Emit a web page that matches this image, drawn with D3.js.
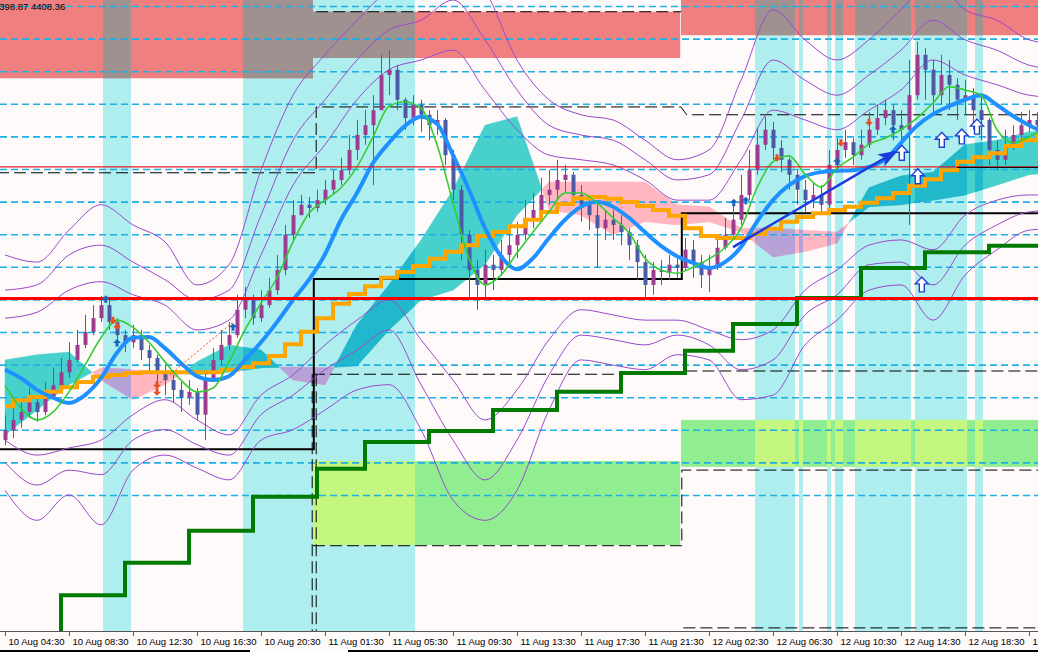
<!DOCTYPE html>
<html lang="en">
<head>
<meta charset="utf-8">
<style>
    body { margin: 0; background: #fffafa; }
    svg { display: block; }
    text { font-family: "Liberation Sans", Arial, sans-serif; }
</style>
</head>
<body>
<svg></svg>
<script src="https://cdn.jsdelivr.net/npm/d3@7"></script>
<script>
    /************************************************************************************
    * Data (one bar per 8 px slot, indicator samples every 2 / 4 bars)
    ************************************************************************************/
    const timeTicks = [0, 8, 16, 24, 32, 40, 48, 56, 64, 72, 80, 88, 96, 104, 112, 120, 128];
    const timeLabels = ["10 Aug 04:30", "10 Aug 08:30", "10 Aug 12:30", "10 Aug 16:30", "10 Aug 20:30",
        "11 Aug 01:30", "11 Aug 05:30", "11 Aug 09:30", "11 Aug 13:30", "11 Aug 17:30", "11 Aug 21:30",
        "12 Aug 02:30", "12 Aug 06:30", "12 Aug 10:30", "12 Aug 14:30", "12 Aug 18:30", "12 Aug 22:30"];

    const firstOpen = 4338.5;
    const closes = [4340.0, 4341.6, 4342.8, 4344.3, 4342.8, 4345.0, 4346.9, 4348.9, 4350.8, 4353.1,
        4355.1, 4357.2, 4359.2, 4356.6, 4354.6, 4353.5, 4354.6, 4352.3, 4351.1, 4348.9,
        4347.7, 4346.2, 4345.0, 4345.9, 4342.4, 4348.0, 4350.8, 4353.1, 4354.6, 4358.5,
        4360.0, 4357.2, 4359.2, 4361.5, 4364.6, 4370.0, 4373.0, 4374.6, 4374.1, 4375.3,
        4376.9, 4378.4, 4379.9, 4383.0, 4385.3, 4386.8, 4389.1, 4394.5, 4395.3, 4390.7,
        4387.9, 4389.9, 4388.4, 4386.8, 4387.6, 4382.2, 4376.9, 4370.0, 4364.6, 4362.3,
        4365.4, 4364.6, 4366.9, 4368.4, 4370.0, 4372.3, 4373.8, 4376.1, 4376.9, 4378.4,
        4379.2, 4376.1, 4374.6, 4373.0, 4371.0, 4372.3, 4371.5, 4370.4, 4368.4, 4365.8,
        4362.3, 4364.6, 4364.3, 4365.4, 4364.9, 4367.7, 4365.8, 4363.8, 4364.9, 4368.0,
        4370.0, 4372.3, 4376.1, 4379.9, 4383.8, 4386.1, 4383.3, 4381.5, 4379.2, 4376.9,
        4375.3, 4376.1, 4374.6, 4380.7, 4383.0, 4384.2, 4382.2, 4383.8, 4386.1, 4387.9,
        4389.1, 4386.8, 4386.1, 4391.4, 4397.6, 4395.3, 4391.4, 4394.5, 4393.0, 4390.7,
        4391.4, 4389.1, 4387.6, 4383.0, 4381.5, 4383.8, 4385.3, 4386.8, 4387.6, 4386.8];
    const highs = [4342.3, 4343.4, 4345.0, 4346.5, 4345.0, 4347.4, 4349.6, 4351.1, 4353.5, 4355.4,
        4357.7, 4359.2, 4360.6, 4360.0, 4357.2, 4355.4, 4356.2, 4355.4, 4353.1, 4351.6,
        4350.0, 4348.5, 4347.4, 4347.7, 4346.5, 4348.9, 4352.6, 4355.4, 4356.6, 4360.8,
        4362.0, 4360.8, 4361.5, 4363.4, 4366.9, 4371.5, 4375.3, 4376.1, 4375.8, 4376.9,
        4378.4, 4379.9, 4381.8, 4385.3, 4387.6, 4389.1, 4391.4, 4397.6, 4398.3, 4396.0,
        4391.0, 4391.4, 4390.7, 4389.1, 4389.1, 4387.9, 4383.0, 4377.6, 4370.7, 4366.1,
        4367.7, 4366.9, 4369.2, 4371.0, 4372.0, 4375.3, 4376.4, 4378.7, 4379.9, 4381.5,
        4380.7, 4379.6, 4377.6, 4376.1, 4374.6, 4373.8, 4373.8, 4373.0, 4371.0, 4369.2,
        4366.9, 4365.8, 4366.1, 4366.9, 4366.4, 4369.5, 4369.2, 4366.9, 4366.9, 4370.0,
        4372.6, 4374.6, 4379.2, 4383.0, 4386.4, 4388.1, 4387.3, 4384.5, 4381.8, 4379.9,
        4378.4, 4378.1, 4377.6, 4383.0, 4384.8, 4386.1, 4384.8, 4386.1, 4388.8, 4389.9,
        4390.7, 4389.9, 4389.1, 4396.8, 4399.6, 4398.6, 4396.8, 4397.6, 4396.8, 4394.0,
        4393.7, 4392.5, 4391.4, 4387.9, 4384.5, 4386.1, 4386.8, 4388.8, 4389.1, 4388.8];
    const lows = [4337.7, 4338.8, 4340.4, 4341.9, 4341.3, 4342.3, 4344.7, 4346.5, 4348.0, 4350.5,
        4352.6, 4354.6, 4356.6, 4355.4, 4353.1, 4352.0, 4352.6, 4350.8, 4348.9, 4345.9,
        4345.4, 4344.3, 4342.8, 4343.9, 4341.6, 4338.5, 4347.7, 4350.0, 4352.3, 4354.2,
        4357.2, 4356.2, 4356.6, 4358.8, 4360.8, 4363.8, 4369.2, 4373.0, 4372.6, 4373.5,
        4374.6, 4376.1, 4377.6, 4379.2, 4381.5, 4383.8, 4377.6, 4389.1, 4391.4, 4389.1,
        4386.1, 4386.8, 4385.8, 4384.5, 4385.3, 4380.7, 4375.3, 4366.1, 4360.0, 4358.5,
        4360.0, 4361.5, 4363.8, 4365.8, 4366.4, 4369.2, 4371.0, 4373.0, 4374.6, 4375.6,
        4376.6, 4374.6, 4372.0, 4370.7, 4364.9, 4369.2, 4369.2, 4368.4, 4366.1, 4363.1,
        4360.3, 4360.8, 4362.3, 4363.1, 4363.4, 4364.6, 4363.4, 4361.8, 4361.2, 4364.6,
        4367.7, 4369.2, 4371.5, 4375.3, 4379.2, 4383.0, 4381.5, 4379.6, 4376.9, 4374.6,
        4373.5, 4374.1, 4373.0, 4373.8, 4379.9, 4381.8, 4380.7, 4381.5, 4383.3, 4385.3,
        4386.8, 4384.5, 4383.0, 4371.5, 4390.7, 4390.7, 4388.4, 4389.9, 4389.1, 4387.6,
        4388.4, 4386.1, 4384.5, 4380.7, 4379.9, 4380.7, 4383.0, 4384.5, 4385.8, 4385.3];

    // moving averages, one sample every 2 bars
    const maSlow = [4349.3, 4348.0, 4346.2, 4345.0, 4344.2, 4345.4, 4348.0, 4351.9, 4354.2, 4354.3,
        4352.6, 4350.3, 4348.3, 4347.7, 4348.3, 4350.8, 4353.5, 4356.6, 4360.0, 4363.1,
        4367.0, 4372.3, 4376.4, 4381.0, 4384.1, 4386.7, 4388.1, 4387.0, 4382.2, 4376.9,
        4371.0, 4366.7, 4364.7, 4366.4, 4369.5, 4372.3, 4374.3, 4375.0, 4374.3, 4372.6,
        4370.4, 4368.3, 4366.7, 4365.7, 4364.9, 4365.8, 4368.1, 4372.0, 4375.3, 4377.6,
        4379.0, 4379.6, 4379.8, 4379.9, 4380.4, 4381.5, 4384.1, 4386.7, 4388.5, 4389.7,
        4390.7, 4391.4, 4389.9, 4388.2, 4386.8, 4385.6];
    const maFast = [4346.9, 4343.4, 4341.6, 4342.8, 4345.9, 4350.0, 4354.2, 4356.9, 4355.8, 4353.5,
        4350.5, 4347.7, 4345.9, 4346.5, 4350.5, 4355.4, 4359.5, 4363.4, 4368.9, 4373.3,
        4375.3, 4377.2, 4380.4, 4385.0, 4389.7, 4390.4, 4389.4, 4383.8, 4374.9, 4366.4,
        4362.3, 4363.8, 4367.2, 4370.4, 4373.5, 4376.4, 4376.4, 4374.9, 4372.6, 4370.3,
        4366.4, 4364.6, 4364.1, 4365.0, 4366.3, 4368.0, 4371.0, 4377.2, 4381.2, 4382.1,
        4379.3, 4377.3, 4380.2, 4381.9, 4383.9, 4384.8, 4386.1, 4387.9, 4390.2, 4392.7,
        4392.2, 4391.4, 4386.1, 4384.1, 4385.0, 4386.4];
    const maHtf = [4343.7, 4344.6, 4345.1, 4345.9, 4346.6, 4347.4, 4348.2, 4348.5, 4348.8, 4348.9,
        4348.9, 4348.9, 4348.9, 4348.9, 4349.3, 4349.7, 4350.3, 4351.4, 4353.2, 4355.1,
        4357.2, 4359.4, 4360.9, 4362.1, 4363.4, 4364.3, 4365.2, 4366.3, 4367.4, 4368.4,
        4369.8, 4370.4, 4371.3, 4372.3, 4373.5, 4374.7, 4375.6, 4375.8, 4375.5, 4375.0,
        4374.4, 4373.8, 4372.9, 4371.0, 4369.8, 4369.5, 4369.5, 4370.1, 4370.9, 4372.0,
        4372.7, 4373.3, 4373.8, 4374.3, 4374.9, 4375.6, 4376.4, 4377.5, 4378.5, 4379.9,
        4381.2, 4381.9, 4382.5, 4383.6, 4384.5, 4385.3];

    // envelope bands, one sample every 4 bars
    const bandUp3 = [4366.9, 4365.8, 4370.7, 4374.6, 4371.5, 4368.9, 4362.3, 4365.4, 4379.9, 4391.4, 4397.6, 4402.9,
        4407.5, 4409.1, 4412.1, 4407.5, 4396.8, 4390.7, 4388.4, 4387.6, 4384.5, 4381.5, 4383.0, 4393.7,
        4404.5, 4399.9, 4396.8, 4399.9, 4404.5, 4409.1, 4404.5, 4402.9, 4399.9, 4399.1];
    const bandUp2 = [4361.5, 4362.3, 4366.9, 4368.4, 4365.8, 4363.1, 4360.0, 4361.5, 4373.0, 4384.5, 4390.7, 4396.8,
        4401.4, 4402.9, 4406.0, 4399.9, 4392.2, 4386.8, 4385.3, 4384.5, 4381.5, 4378.4, 4379.2, 4387.6,
        4396.8, 4393.7, 4391.4, 4394.5, 4398.3, 4402.9, 4399.9, 4398.3, 4396.0, 4395.3];
    const bandUp1 = [4357.2, 4358.1, 4361.5, 4362.8, 4360.8, 4359.2, 4355.4, 4356.9, 4366.9, 4377.6, 4383.8, 4390.7,
        4395.3, 4396.8, 4398.3, 4392.2, 4386.1, 4382.2, 4381.5, 4380.7, 4378.4, 4375.3, 4375.3, 4381.5,
        4389.1, 4387.6, 4386.1, 4389.1, 4392.2, 4396.8, 4394.5, 4393.0, 4391.4, 4391.0];
    const bandDn1 = [4338.5, 4336.2, 4337.3, 4338.5, 4342.4, 4344.7, 4341.6, 4339.3, 4345.4, 4348.5, 4353.1, 4356.9,
        4360.0, 4353.9, 4347.7, 4341.6, 4346.2, 4353.9, 4358.5, 4357.7, 4356.9, 4356.9, 4355.4, 4353.9,
        4355.4, 4361.5, 4364.6, 4368.4, 4369.2, 4367.7, 4373.0, 4375.3, 4376.1, 4376.1];
    const bandDn2 = [4335.1, 4331.6, 4333.9, 4333.2, 4338.5, 4340.1, 4337.8, 4336.2, 4342.4, 4345.4, 4349.3, 4352.3,
        4355.4, 4347.0, 4338.5, 4332.4, 4338.5, 4348.5, 4354.6, 4353.9, 4353.1, 4354.6, 4353.1, 4349.3,
        4350.8, 4357.7, 4360.8, 4365.4, 4365.8, 4362.3, 4368.4, 4371.5, 4373.5, 4373.8];
    const bandDn3 = [4330.8, 4326.2, 4330.1, 4325.5, 4333.9, 4336.2, 4334.2, 4332.4, 4338.5, 4340.1, 4343.1, 4346.2,
        4347.0, 4340.1, 4329.3, 4326.2, 4330.8, 4343.1, 4350.8, 4350.0, 4349.3, 4351.6, 4350.8, 4344.7,
        4345.4, 4353.1, 4356.9, 4361.5, 4362.3, 4356.9, 4363.8, 4367.7, 4370.7, 4371.0];

    // ichimoku cloud spans, one sample every 4 bars
    const spanA = [4350.8, 4351.6, 4352.0, 4347.7, 4344.7, 4347.0, 4350.5, 4353.1, 4352.3, 4347.7, 4347.0, 4356.2,
        4362.3, 4369.2, 4376.9, 4386.8, 4388.1, 4373.8, 4373.0, 4370.0, 4372.0, 4371.5, 4372.0, 4370.4,
        4366.6, 4367.4, 4368.7, 4377.2, 4379.0, 4379.6, 4383.8, 4384.5, 4385.8, 4386.1];
    const spanB = [4339.3, 4343.1, 4347.0, 4349.6, 4349.3, 4348.9, 4348.5, 4348.9, 4349.6, 4349.7, 4349.6, 4349.9,
        4355.4, 4360.0, 4361.5, 4365.4, 4373.0, 4378.1, 4378.1, 4378.1, 4378.1, 4374.6, 4374.3, 4371.0,
        4371.0, 4370.7, 4370.4, 4374.3, 4374.6, 4375.3, 4376.1, 4377.6, 4379.2, 4379.6];

    // trailing stop steps
    const trailIdx = [0, 7, 15, 23, 31, 39, 45, 53, 61, 69, 77, 85, 91, 99, 107, 115, 123, 131];
    const trailVal = [4308.2, 4314.7, 4319.7, 4324.6, 4329.8, 4334.1, 4338.2, 4339.9, 4343.1, 4345.9,
        4348.8, 4352.2, 4356.3, 4360.3, 4364.9, 4367.3, 4368.3, 4368.3];

    // session bands (bar index)
    const sessionStart = [12.25, 29.75, 93.75, 99.25, 102.75, 103.75, 106.25, 113.75, 121.25];
    const sessionEnd = [15.75, 51.25, 98.75, 99.75, 103.25, 104.75, 113.25, 120.25, 122.25];

    // supply / demand zones
    const zoneFrom = [-1, 38.5, 84.5, 38.5, 84.5];
    const zoneTo = [38.5, 84.4, 131, 84.4, 131];
    const zoneHi = [4412, 4404.2, 4412, 4335.3, 4341.6];
    const zoneLo = [4394.0, 4397.1, 4400.6, 4322.4, 4334.4];
    const zoneKind = ["supply", "supply", "supply", "demand", "demand"];

    // horizontal levels
    const gridLevels = [4405, 4400, 4395, 4390, 4385, 4380, 4375, 4370, 4365, 4360, 4355, 4350, 4345, 4340, 4335, 4330];
    const redMajor = 4360.2;
    const redMinor = 4380.4;

    // range box lines
    const boxSolidIdx = [-1, 38.6, 38.6, 84.6, 84.6, 131];
    const boxSolidVal = [4337.1, 4337.1, 4363.2, 4363.2, 4373.3, 4373.3];
    const boxTopIdx = [-1, 38.9, 38.9, 84.5, 85.2, 131];
    const boxTopVal = [4379.5, 4379.5, 4389.6, 4389.6, 4388.4, 4388.4];
    const boxMidIdx = [38.5, 84.5, 84.8, 131];
    const boxMidVal = [4348.6, 4348.6, 4349.1, 4349.1];
    const boxLowIdx = [38.5, 84.6, 84.6, 131];
    const boxLowVal = [4322.3, 4322.3, 4333.9, 4333.9];

    // signals
    const sigUpIdx = [12.6, 14, 28.5, 91.1, 92.6, 104, 111];
    const sigUpVal = [4360.1, 4353.4, 4355.8, 4374.9, 4375.2, 4381.2, 4386.1];
    const sigDnIdx = [13.5, 14, 19, 19, 96.5, 104.5, 108];
    const sigDnVal = [4356.9, 4356.0, 4347.0, 4345.9, 4381.8, 4384.1, 4387.3];
    const buyIdx = [112.1, 114.1, 117.1, 119.6, 121.5, 114.6];
    const buyVal = [4382.5, 4378.9, 4384.5, 4385.0, 4386.5, 4362.3];
    const trendIdx = [91, 111.3];
    const trendVal = [4368.1, 4382.7];

    /************************************************************************************
    * Setup
    ************************************************************************************/
    const W = 1038, H = 652, axisY = 631;
    const svg = d3.select("svg").attr("width", W).attr("height", H);

    const x = d3.scaleLinear().domain([0, 129]).range([5, 1037]);
    const y = d3.scaleLinear().domain([4306, 4406]).range([652, 0]);

    const defs = svg.append("defs");
    defs.append("clipPath").attr("id", "plotClip")
        .append("rect").attr("width", W).attr("height", axisY);
    const sessions = d3.zip(sessionStart, sessionEnd);
    defs.append("clipPath").attr("id", "sessionClip")
        .selectAll("rect").data(sessions).join("rect")
        .attr("x", d => x(d[0])).attr("width", d => x(d[1]) - x(d[0]))
        .attr("y", 0).attr("height", axisY);
    defs.append("marker").attr("id", "trendHead")
        .attr("markerUnits", "userSpaceOnUse")
        .attr("markerWidth", 20).attr("markerHeight", 14)
        .attr("refX", 17).attr("refY", 7).attr("orient", "auto")
        .append("path").attr("d", "M0,0 L20,7 L0,14 L5,7 Z").attr("fill", "#1a3be0");

    svg.append("rect").attr("width", W).attr("height", H).attr("fill", "#fffafa");
    const plot = svg.append("g").attr("clip-path", "url(#plotClip)");

    /************************************************************************************
    * Sessions and zones
    ************************************************************************************/
    plot.append("g").selectAll("rect").data(sessions).join("rect")
        .attr("x", d => x(d[0])).attr("width", d => x(d[1]) - x(d[0]))
        .attr("y", 0).attr("height", axisY)
        .attr("fill", "#afeeee");

    const zones = zoneKind.map((k, i) => ({ k, x0: zoneFrom[i], x1: zoneTo[i], hi: zoneHi[i], lo: zoneLo[i] }));
    const zoneFill = { supply: "#f08080", demand: "#90ee90" };
    const zoneMix = { supply: "#a09191", demand: "#c3f77f" };
    function drawZones(g, colors) {
        g.selectAll("rect").data(zones).join("rect")
            .attr("x", d => x(d.x0)).attr("width", d => x(d.x1) - x(d.x0))
            .attr("y", d => y(d.hi)).attr("height", d => y(d.lo) - y(d.hi))
            .attr("fill", d => colors[d.k]);
    }
    drawZones(plot.append("g"), zoneFill);
    drawZones(plot.append("g").attr("clip-path", "url(#sessionClip)"), zoneMix);

    /************************************************************************************
    * Ichimoku cloud
    ************************************************************************************/
    const cloud = spanA.map((a, i) => ({ i: i * 4, a, b: spanB[i] }));
    const runs = [];
    let run = { up: cloud[0].a >= cloud[0].b, pts: [cloud[0]] };
    for (let k = 1; k < cloud.length; k++) {
        const p = cloud[k - 1], q = cloud[k];
        const d0 = p.a - p.b, d1 = q.a - q.b;
        if ((d0 >= 0) !== (d1 >= 0)) {
            const t = d0 / (d0 - d1);
            const a = p.a + t * (q.a - p.a);
            const m = { i: p.i + t * (q.i - p.i), a, b: a };
            run.pts.push(m);
            runs.push(run);
            run = { up: d1 >= 0, pts: [m] };
        }
        run.pts.push(q);
    }
    runs.push(run);

    const cloudArea = d3.area().x(d => x(d.i)).y0(d => y(d.a)).y1(d => y(d.b));
    function drawCloud(g, upColor, downColor) {
        g.selectAll("path").data(runs).join("path")
            .attr("d", d => cloudArea(d.pts))
            .attr("fill", d => d.up ? upColor : downColor)
            .attr("stroke", d => d.up ? upColor : downColor)
            .attr("stroke-width", 0.5);
    }
    drawCloud(plot.append("g"), "#48d1cc", "#ffb6c1");
    drawCloud(plot.append("g").attr("clip-path", "url(#sessionClip)"), "#22b8cc", "#b7a2d8");

    /************************************************************************************
    * Grid levels and boxes
    ************************************************************************************/
    plot.append("g").selectAll("line").data(gridLevels).join("line")
        .attr("x1", 0).attr("x2", W)
        .attr("y1", d => y(d)).attr("y2", d => y(d))
        .attr("stroke", "#1db0e4").attr("stroke-width", 1.6)
        .attr("stroke-dasharray", "7,4");

    const poly = d3.line().x(d => x(d[0])).y(d => y(d[1]));
    plot.append("path").attr("d", poly(d3.zip(boxSolidIdx, boxSolidVal)))
        .attr("fill", "none").attr("stroke", "#000").attr("stroke-width", 2);
    [[boxTopIdx, boxTopVal], [boxMidIdx, boxMidVal], [boxLowIdx, boxLowVal],
     [[84.8, 131], [4309.7, 4309.7]], [[38.9, 84.5], [4404.2, 4404.2]],
     [[38.4, 38.4], [4348.6, 4300]], [[38.9, 38.9], [4348.6, 4300]]]
        .forEach(([xs, vs]) => {
            plot.append("path").attr("d", poly(d3.zip(xs, vs)))
                .attr("fill", "none").attr("stroke", "#000").attr("stroke-width", 1)
                .attr("stroke-dasharray", "12,5");
        });

    /************************************************************************************
    * Envelope bands
    ************************************************************************************/
    const bandLine = d3.line().x((d, i) => x(i * 4)).y(d => y(d)).curve(d3.curveMonotoneX);
    plot.append("g").selectAll("path")
        .data([bandUp3, bandUp2, bandUp1, bandDn1, bandDn2, bandDn3]).join("path")
        .attr("d", bandLine)
        .attr("fill", "none").attr("stroke", "#9a4bcc").attr("stroke-width", 1);

    /************************************************************************************
    * Candles
    ************************************************************************************/
    const bars = closes.map((c, i) => ({ i, o: i ? closes[i - 1] : firstOpen, h: highs[i], l: lows[i], c }));
    const candle = plot.append("g").selectAll("g").data(bars).join("g")
        .attr("stroke", d => d.c >= d.o ? "#9b3c8f" : "#4b5aa5")
        .attr("fill", d => d.c >= d.o ? "#9b3c8f" : "#4b5aa5");
    candle.append("line")
        .attr("x1", d => x(d.i) + 0.5).attr("x2", d => x(d.i) + 0.5)
        .attr("y1", d => y(Math.max(d.h, d.o, d.c))).attr("y2", d => y(Math.min(d.l, d.o, d.c)))
        .attr("stroke-width", 1);
    candle.append("rect")
        .attr("x", d => x(d.i) - 1.5).attr("width", 4)
        .attr("y", d => y(Math.max(d.o, d.c)))
        .attr("height", d => Math.max(1, Math.abs(y(d.o) - y(d.c))))
        .attr("stroke", "none");

    /************************************************************************************
    * Moving averages and trailing stop
    ************************************************************************************/
    const maLine = d3.line().x((d, i) => x(i * 2)).y(d => y(d));
    plot.append("path").attr("d", maLine.curve(d3.curveStep)(maHtf))
        .attr("fill", "none").attr("stroke", "#ffa500").attr("stroke-width", 4);
    plot.append("path").attr("d", maLine.curve(d3.curveMonotoneX)(maSlow))
        .attr("fill", "none").attr("stroke", "#1e90ff").attr("stroke-width", 4);
    plot.append("path").attr("d", maLine.curve(d3.curveMonotoneX)(maFast))
        .attr("fill", "none").attr("stroke", "#32cd32").attr("stroke-width", 1.6);

    plot.append("path")
        .attr("d", d3.line().x(d => x(d[0])).y(d => y(d[1])).curve(d3.curveStepAfter)(d3.zip(trailIdx, trailVal)))
        .attr("fill", "none").attr("stroke", "#007a00").attr("stroke-width", 4);

    plot.append("line").attr("x1", 0).attr("x2", W)
        .attr("y1", y(redMajor)).attr("y2", y(redMajor))
        .attr("stroke", "#ff0000").attr("stroke-width", 3);
    plot.append("line").attr("x1", 0).attr("x2", W)
        .attr("y1", y(redMinor)).attr("y2", y(redMinor))
        .attr("stroke", "#e02020").attr("stroke-width", 1.2);
    plot.append("line").attr("x1", x(119)).attr("x2", W)
        .attr("y1", y(redMinor) + 0.5).attr("y2", y(redMinor) + 0.5)
        .attr("stroke", "#000").attr("stroke-width", 1);

    /************************************************************************************
    * Signals
    ************************************************************************************/
    plot.append("line")
        .attr("x1", x(19.4)).attr("y1", y(4347.3)).attr("x2", x(28.5)).attr("y2", y(4356.6))
        .attr("stroke", "#e5501e").attr("stroke-width", 1).attr("stroke-dasharray", "2,2");

    plot.append("line")
        .attr("x1", x(trendIdx[0])).attr("y1", y(trendVal[0]))
        .attr("x2", x(trendIdx[1])).attr("y2", y(trendVal[1]))
        .attr("stroke", "#1a3be0").attr("stroke-width", 2.5)
        .attr("marker-end", "url(#trendHead)");

    plot.append("g").selectAll("path").data(d3.zip(sigUpIdx, sigUpVal)).join("path")
        .attr("transform", d => `translate(${x(d[0])},${y(d[1])})`)
        .attr("d", "M0,-4 L4,0 L1.5,0 L1.5,3.5 L-1.5,3.5 L-1.5,0 L-4,0 Z")
        .attr("fill", "#1565c0");
    plot.append("g").selectAll("path").data(d3.zip(sigDnIdx, sigDnVal)).join("path")
        .attr("transform", d => `translate(${x(d[0])},${y(d[1])})`)
        .attr("d", "M0,4 L4,0 L1.5,0 L1.5,-3.5 L-1.5,-3.5 L-1.5,0 L-4,0 Z")
        .attr("fill", "#e5501e");
    plot.append("g").selectAll("path").data(d3.zip(buyIdx, buyVal)).join("path")
        .attr("transform", d => `translate(${x(d[0])},${y(d[1])})`)
        .attr("d", "M0,-8 L6.5,-1 L2.5,-1 L2.5,7 L-2.5,7 L-2.5,-1 L-6.5,-1 Z")
        .attr("fill", "#ffffff").attr("stroke", "#2040d0").attr("stroke-width", 1.4);

    /************************************************************************************
    * Time axis
    ************************************************************************************/
    svg.append("line").attr("x1", 0).attr("x2", W).attr("y1", axisY + 0.5).attr("y2", axisY + 0.5)
        .attr("stroke", "#555").attr("stroke-width", 1);
    const axis = d3.axisBottom(x).tickValues(timeTicks)
        .tickFormat((d, i) => timeLabels[i]).tickSize(5).tickPadding(2);
    const ax = svg.append("g").attr("transform", `translate(0,${axisY})`).call(axis);
    ax.select(".domain").remove();
    ax.selectAll(".tick line").attr("stroke", "#555");
    ax.selectAll(".tick text")
        .attr("text-anchor", "start").attr("dx", 3)
        .attr("font-family", "'Liberation Sans', Arial, sans-serif")
        .attr("font-size", 9.5).attr("fill", "#000");

    svg.append("line").attr("x1", 0).attr("x2", 250).attr("y1", 651).attr("y2", 651)
        .attr("stroke", "#000").attr("stroke-width", 2);
    svg.append("line").attr("x1", 348).attr("x2", W).attr("y1", 651).attr("y2", 651)
        .attr("stroke", "#000").attr("stroke-width", 2);

    svg.append("text").attr("x", -6).attr("y", 10)
        .attr("font-size", 9.5).attr("fill", "#000")
        .text("4398.87 4408.36");
</script>
</body>
</html>
